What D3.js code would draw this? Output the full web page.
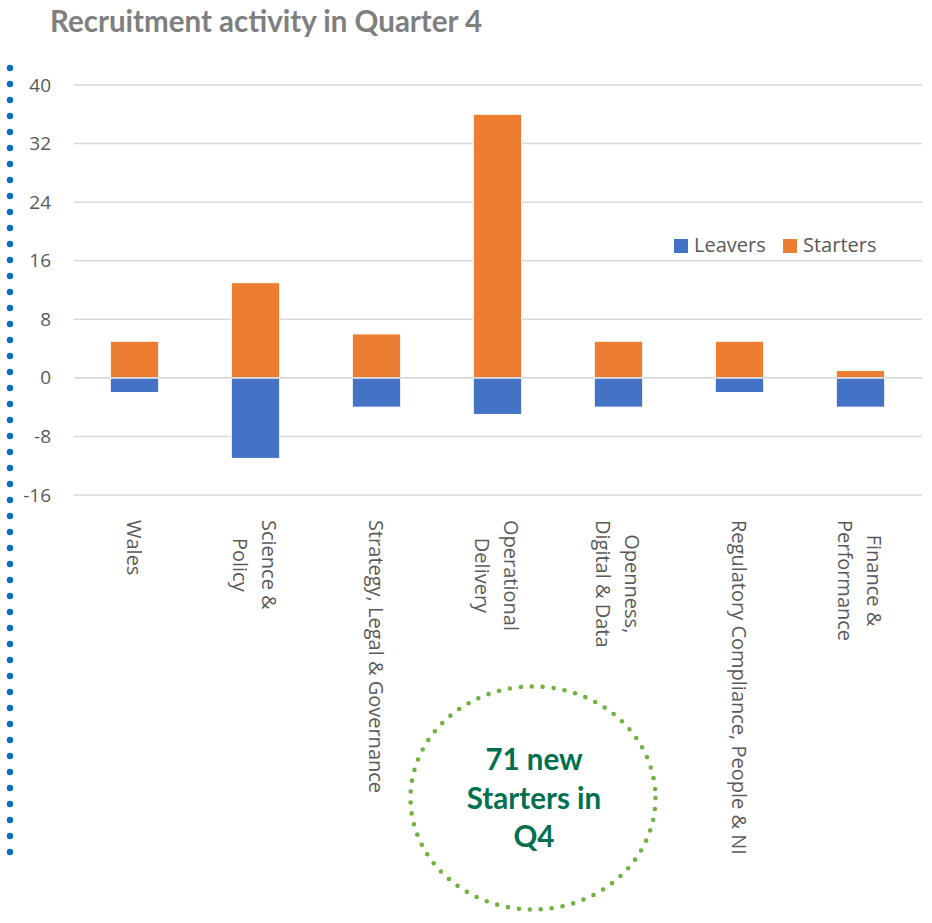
<!DOCTYPE html>
<html>
<head>
<meta charset="utf-8">
<script src="https://cdn.jsdelivr.net/npm/d3@7"></script>
<style>
    html, body { margin: 0; padding: 0; background: #fff; }
    svg { display: block; }
</style>
</head>
<body>
<div id="chart"></div>
<script>
// data
const categories = ["Wales", "Science & Policy", "Strategy, Legal & Governance", "Operational Delivery",
    "Openness, Digital & Data", "Regulatory Compliance, People & NI", "Finance & Performance"];
// how the axis labels wrap
const categoryLines = [["Wales"], ["Science &", "Policy"], ["Strategy, Legal & Governance"],
    ["Operational", "Delivery"], ["Openness,", "Digital & Data"],
    ["Regulatory Compliance, People & NI"], ["Finance &", "Performance"]];
const leavers = [-2, -11, -4, -5, -4, -2, -4];
const starters = [5, 13, 6, 36, 5, 5, 1];
const seriesNames = ["Leavers", "Starters"];
const yTicks = [-16, -8, 0, 8, 16, 24, 32, 40];
const calloutLines = ["71 new", "Starters in", "Q4"];
const chartTitle = "Recruitment activity in Quarter 4";

const COLORS = { Leavers: "#4472C4", Starters: "#ED7D31" };

const width = 932, height = 923;
const plot = { left: 74, right: 921, top: 85, bottom: 495 };

const svg = d3.select("#chart").append("svg")
    .attr("width", width)
    .attr("height", height);

// title
svg.append("text")
    .attr("x", 50)
    .attr("y", 32)
    .attr("font-family", "Lato, 'Open Sans', sans-serif")
    .attr("font-weight", "bold")
    .attr("font-size", 29.5)
    .attr("fill", "#7F7F7F")
    .text(chartTitle);

// blue dotted rule down the left side
svg.append("line")
    .attr("x1", 10).attr("x2", 10)
    .attr("y1", 68).attr("y2", 856)
    .attr("stroke", "#0070C0")
    .attr("stroke-width", 6.5)
    .attr("stroke-linecap", "round")
    .attr("stroke-dasharray", "0 16");

// scales
const x = d3.scaleBand()
    .domain(categories)
    .range([plot.left, plot.right])
    .paddingInner(0.6)
    .paddingOuter(0.3);

const y = d3.scaleLinear()
    .domain([d3.min(yTicks), d3.max(yTicks)])
    .range([plot.bottom, plot.top]);

// gridlines
svg.append("g")
    .selectAll("line")
    .data(yTicks)
    .join("line")
    .attr("x1", plot.left)
    .attr("x2", plot.right + 1)
    .attr("y1", d => y(d))
    .attr("y2", d => y(d))
    .attr("stroke", "#D9D9D9")
    .attr("stroke-width", 1.5);

// y axis labels (plain hyphen for negatives, as in the original)
const yAxis = d3.axisLeft(y)
    .tickValues(yTicks)
    .tickFormat(d => String(d))
    .tickSize(0)
    .tickPadding(0);

svg.append("g")
    .attr("transform", `translate(51,0)`)
    .call(yAxis)
    .call(g => g.select(".domain").remove())
    .call(g => g.selectAll("text")
        .attr("font-family", "'Open Sans', sans-serif")
        .attr("font-size", 19)
        .attr("fill", "#595959"));

// stacked bars (diverging: leavers below zero, starters above)
const table = categories.map((c, i) => ({ cat: c, Leavers: leavers[i], Starters: starters[i] }));
const stacked = d3.stack()
    .keys(seriesNames)
    .offset(d3.stackOffsetDiverging)(table);

svg.append("g")
    .selectAll("g")
    .data(stacked)
    .join("g")
    .attr("fill", d => COLORS[d.key])
    .selectAll("rect")
    .data(d => d)
    .join("rect")
    .attr("x", d => x(d.data.cat))
    .attr("width", x.bandwidth())
    .attr("y", d => y(d[1]))
    .attr("height", d => y(d[0]) - y(d[1]))
    .attr("stroke", "#fff")
    .attr("stroke-width", 1);

// zero line sits over the join of the two stacks
svg.append("line")
    .attr("x1", plot.left)
    .attr("x2", plot.right + 1)
    .attr("y1", y(0))
    .attr("y2", y(0))
    .attr("stroke", "#D9D9D9")
    .attr("stroke-width", 1.5);

// category labels, turned to read downwards, lines centred
const lineGap = 29;
const labelTop = 520;
const labels = svg.append("g")
    .attr("font-family", "'Open Sans', sans-serif")
    .attr("font-size", 20)
    .attr("fill", "#595959");

categories.forEach((c, i) => {
    const lines = categoryLines[i];
    const g = labels.append("g")
        .attr("transform", `translate(${x(c) + x.bandwidth() / 2},${labelTop}) rotate(90)`);
    const texts = g.selectAll("text")
        .data(lines)
        .join("text")
        .attr("y", (d, j) => 8 + (j - (lines.length - 1) / 2) * lineGap)
        .text(d => d);
    const widths = texts.nodes().map(n => n.getComputedTextLength());
    const maxW = d3.max(widths);
    texts.attr("x", maxW / 2).attr("text-anchor", "middle");
});

// legend
const legend = svg.append("g")
    .attr("font-family", "'Open Sans', sans-serif")
    .attr("font-size", 20)
    .attr("fill", "#595959");
const legendX = [674, 783];
seriesNames.forEach((name, i) => {
    legend.append("rect")
        .attr("x", legendX[i])
        .attr("y", 239)
        .attr("width", 14)
        .attr("height", 14)
        .attr("fill", COLORS[name]);
    legend.append("text")
        .attr("x", legendX[i] + 20)
        .attr("y", 252)
        .text(name);
});

// callout: green dotted ellipse with bold text
const callout = { cx: 533, cy: 798, rx: 122.5, ry: 111.5 };
svg.append("ellipse")
    .attr("cx", callout.cx)
    .attr("cy", callout.cy)
    .attr("rx", callout.rx)
    .attr("ry", callout.ry)
    .attr("fill", "none")
    .attr("stroke", "#6FB23F")
    .attr("stroke-width", 4.6)
    .attr("stroke-linecap", "round")
    .attr("stroke-dasharray", "0 11");

svg.append("g")
    .attr("font-family", "Lato, 'Open Sans', sans-serif")
    .attr("font-weight", "bold")
    .attr("font-size", 29.5)
    .attr("fill", "#00704E")
    .attr("text-anchor", "middle")
    .selectAll("text")
    .data(calloutLines)
    .join("text")
    .attr("x", 534)
    .attr("y", (d, i) => 770 + i * 38.5)
    .text(d => d);
</script>
</body>
</html>
